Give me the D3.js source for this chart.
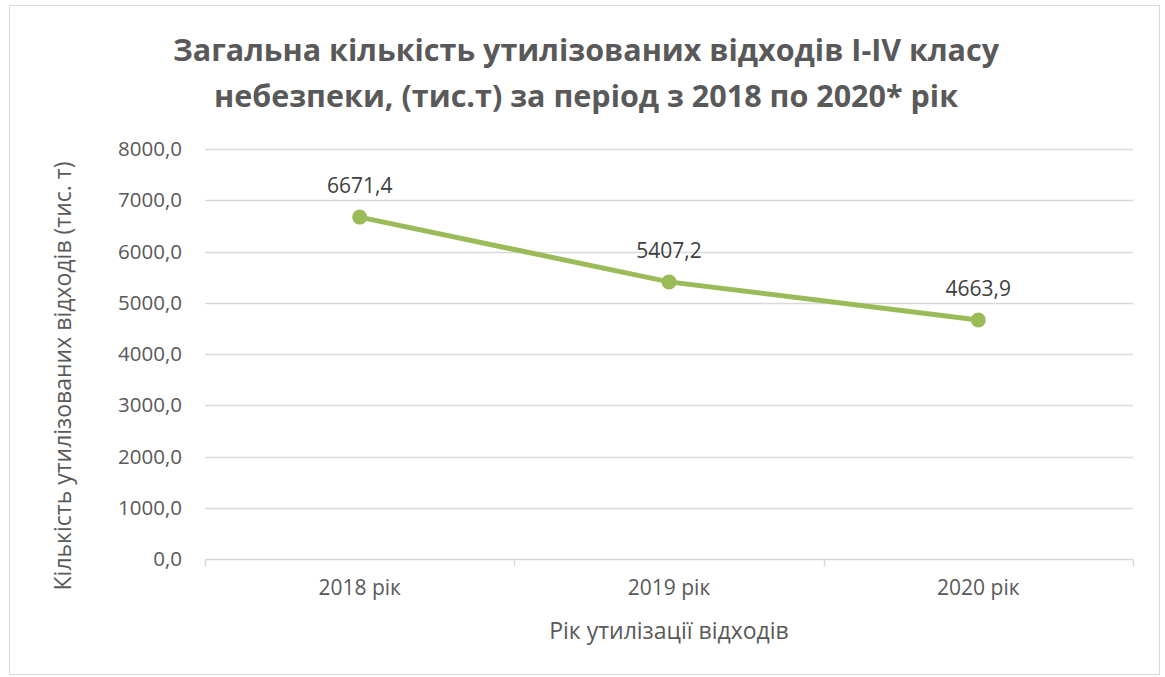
<!DOCTYPE html>
<html>
<head>
<meta charset="utf-8">
<script src="https://cdn.jsdelivr.net/npm/d3@7"></script>
<style>
  body { margin: 0; background: #fff; }
  svg text { font-family: "Open Sans", "DejaVu Sans", sans-serif; }
</style>
</head>
<body>
<div id="chart"></div>
<script>
const years = ["2018 рік", "2019 рік", "2020 рік"];
const amounts = [6671.4, 5407.2, 4663.9];
const yTicks = [0, 1000, 2000, 3000, 4000, 5000, 6000, 7000, 8000];
const titleLines = [
  "Загальна кількість утилізованих відходів I-IV класу",
  "небезпеки, (тис.т) за період з 2018 по 2020* рік"
];

const W = 1165, H = 677;
const plot = { left: 205, right: 1133, top: 149, bottom: 559 };

const svg = d3.select("#chart").append("svg")
  .attr("width", W).attr("height", H);

svg.append("rect")
  .attr("x", 9.5).attr("y", 5.5)
  .attr("width", 1150).attr("height", 669)
  .attr("fill", "#fff").attr("stroke", "#d9d9d9");

svg.selectAll("text.title")
  .data(titleLines)
  .join("text")
  .attr("class", "title")
  .attr("x", 586)
  .attr("y", (d, i) => 61 + i * 46)
  .attr("text-anchor", "middle")
  .attr("font-size", 30.5)
  .attr("font-weight", "bold")
  .attr("fill", "#595959")
  .text(d => d);

const x = d3.scaleBand()
  .domain(years)
  .range([plot.left, plot.right]);

const y = d3.scaleLinear()
  .domain([0, 8000])
  .range([plot.bottom, plot.top]);

const fmt = v => d3.format(".1f")(v).replace(".", ",");

// gridlines
svg.append("g")
  .selectAll("line")
  .data(yTicks)
  .join("line")
  .attr("x1", plot.left).attr("x2", plot.right)
  .attr("y1", d => Math.round(y(d)) + 0.5)
  .attr("y2", d => Math.round(y(d)) + 0.5)
  .attr("stroke", "#d9d9d9")
  .attr("stroke-width", 1.5);

// y axis labels
const yAxis = svg.append("g")
  .attr("transform", `translate(${plot.left},0)`)
  .call(d3.axisLeft(y).tickValues(yTicks).tickFormat(fmt).tickSize(0).tickPadding(23));
yAxis.select(".domain").remove();
yAxis.selectAll("text")
  .attr("font-size", 20.5)
  .attr("fill", "#595959")
  .style("font-family", "'Open Sans', sans-serif");

// x axis
const xAxis = svg.append("g")
  .attr("transform", `translate(0,${Math.round(plot.bottom) + 0.5})`)
  .call(d3.axisBottom(x).tickSize(0).tickPadding(21));
xAxis.select(".domain").remove();
xAxis.selectAll("text")
  .attr("font-size", 21)
  .attr("fill", "#595959")
  .style("font-family", "'Open Sans', sans-serif");

const edges = years.map(d => x(d)).concat([plot.right]);
xAxis.selectAll("line.edge")
  .data(edges)
  .join("line")
  .attr("class", "edge")
  .attr("x1", d => Math.round(d) + 0.5).attr("x2", d => Math.round(d) + 0.5)
  .attr("y1", 0).attr("y2", 7)
  .attr("stroke", "#d9d9d9")
  .attr("stroke-width", 1.5);

// axis titles
svg.append("text")
  .attr("transform", "translate(71,376) rotate(-90)")
  .attr("text-anchor", "middle")
  .attr("font-size", 23)
  .attr("fill", "#595959")
  .text("Кількість утилізованих відходів (тис. т)");

svg.append("text")
  .attr("x", 669).attr("y", 639)
  .attr("text-anchor", "middle")
  .attr("font-size", 23)
  .attr("fill", "#595959")
  .text("Рік утилізації відходів");

// line + markers
const cx = d => x(d) + x.bandwidth() / 2;
const pts = years.map((d, i) => [cx(d), y(amounts[i])]);

svg.append("path")
  .attr("d", d3.line()(pts))
  .attr("fill", "none")
  .attr("stroke", "#9bbb59")
  .attr("stroke-width", 5)
  .attr("stroke-linejoin", "round")
  .attr("stroke-linecap", "round");

svg.selectAll("circle.pt")
  .data(pts)
  .join("circle")
  .attr("class", "pt")
  .attr("cx", d => d[0]).attr("cy", d => d[1])
  .attr("r", 7.5)
  .attr("fill", "#9bbb59");

svg.selectAll("text.lbl")
  .data(pts)
  .join("text")
  .attr("class", "lbl")
  .attr("x", d => d[0])
  .attr("y", d => d[1] - 24)
  .attr("text-anchor", "middle")
  .attr("font-size", 21)
  .attr("fill", "#404040")
  .text((d, i) => fmt(amounts[i]));
</script>
</body>
</html>
